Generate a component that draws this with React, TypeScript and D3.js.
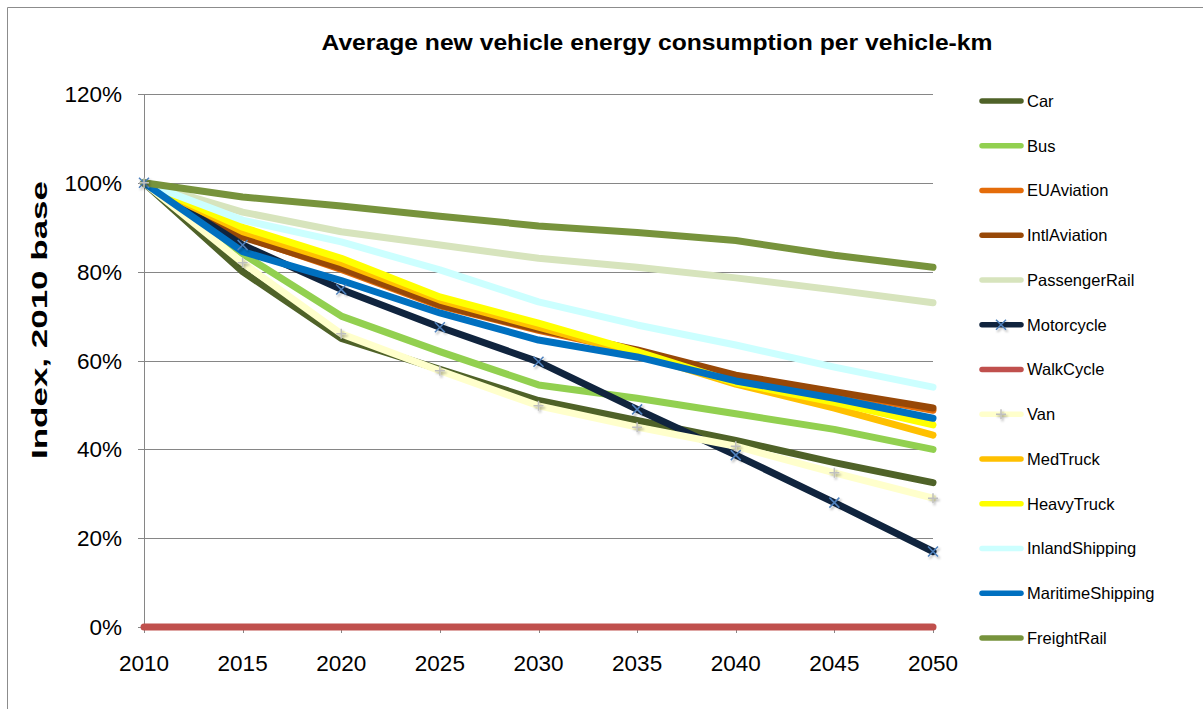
import React from "react";
import * as d3 from "d3";

const years = [2010, 2015, 2020, 2025, 2030, 2035, 2040, 2045, 2050];
const yTicks = [0, 20, 40, 60, 80, 100, 120];

const car = [100, 80, 65, 58, 51, 46.5, 42, 37, 32.5];
const bus = [100, 84, 70, 62, 54.5, 51.5, 48, 44.5, 40];
const euAviation = [100, 88, 80.5, 72.3, 66.8, 62, 56.5, 52.8, 48.8];
const intlAviation = [100, 87.8, 80.8, 72.5, 67, 62.4, 56.7, 53, 49.3];
const passengerRail = [100, 93.4, 89, 86, 83, 81, 78.6, 75.9, 73];
const motorcycle = [100, 86, 76, 67.5, 59.7, 49, 38.7, 28, 17];
const walkCycle = [0, 0, 0, 0, 0, 0, 0, 0, 0];
const van = [100, 82, 66, 57.7, 49.8, 45, 40.7, 34.7, 29];
const medTruck = [100, 89, 82, 73.6, 67.5, 61.5, 54.7, 49.3, 43.2];
const heavyTruck = [100, 90, 83, 74.3, 68.4, 62, 55, 50.6, 45.5];
const inlandShipping = [100, 91.6, 86.7, 80.4, 73.2, 68, 63.5, 58.5, 54];
const maritimeShipping = [100, 84.5, 78, 70.7, 64.6, 60.8, 55.4, 51.5, 47];
const freightRail = [100, 96.8, 94.8, 92.5, 90.3, 88.8, 87, 83.7, 81];

const seriesNames = [
  "Car", "Bus", "EUAviation", "IntlAviation", "PassengerRail", "Motorcycle",
  "WalkCycle", "Van", "MedTruck", "HeavyTruck", "InlandShipping",
  "MaritimeShipping", "FreightRail",
];
const seriesValues = [
  car, bus, euAviation, intlAviation, passengerRail, motorcycle, walkCycle,
  van, medTruck, heavyTruck, inlandShipping, maritimeShipping, freightRail,
];
const seriesColors = [
  "#4F6228", "#92D050", "#E46C0A", "#984807", "#D7E4BD", "#10243E",
  "#C0504D", "#FFFFCC", "#FFC000", "#FFFF00", "#CCFFFF", "#0070C0", "#77933C",
];
const seriesMarkers = ["", "", "", "", "", "x", "", "+", "", "", "", "", ""];

const FONT = "'Liberation Sans', Arial, sans-serif";

export default function App() {
  const W = 1203, H = 709;
  const left = 144, right = 933, top = 94, bottom = 627;
  const x = d3.scaleLinear().domain([2010, 2050]).range([left, right]);
  const y = d3.scaleLinear().domain([0, 120]).range([bottom, top]);
  const line = d3.line<number>().x((_, i) => x(years[i])).y((d) => y(d));

  const marker = (type: string, cx: number, cy: number, key: string) => {
    const s = 5;
    if (type === "x") {
      return (
        <g key={key} filter="url(#shadow)">
          <path d={`M${cx - s},${cy - s}L${cx + s},${cy + s}M${cx - s},${cy + s}L${cx + s},${cy - s}`} stroke="#4F81BD" strokeWidth={1.5} fill="none" />
        </g>
      );
    }
    if (type === "+") {
      return (
        <g key={key} filter="url(#shadow)">
          <path d={`M${cx - s},${cy}L${cx + s},${cy}M${cx},${cy - s}L${cx},${cy + s}`} stroke="#BFBFBF" strokeWidth={1.5} fill="none" />
        </g>
      );
    }
    return null;
  };

  const legendY0 = 101, legendStep = 44.75;

  return (
    <svg width={W} height={H} style={{ position: "absolute", left: 0, top: 0, background: "#fff" }} fontFamily={FONT}>
      <defs>
        <filter id="shadow" x="-50%" y="-50%" width="200%" height="200%">
          <feDropShadow dx="1.5" dy="2" stdDeviation="1.2" floodColor="#000" floodOpacity="0.35" />
        </filter>
      </defs>
      <rect x={0} y={0} width={W} height={H} fill="#fff" />
      <path d={`M7.5,${H}V7.5H${W}`} fill="none" stroke="#8C8C8C" strokeWidth={1} />

      <text x={657} y={50} textAnchor="middle" fontSize={22} fontWeight="bold" fill="#000" textLength={671} lengthAdjust="spacingAndGlyphs">
        Average new vehicle energy consumption per vehicle-km
      </text>

      {yTicks.map((t) => (
        <g key={t}>
          {t > 0 && <line x1={left} x2={right} y1={Math.round(y(t)) + 0.5} y2={Math.round(y(t)) + 0.5} stroke="#868686" strokeWidth={1} />}
          <line x1={left - 6} x2={left} y1={Math.round(y(t)) + 0.5} y2={Math.round(y(t)) + 0.5} stroke="#868686" />
          <text x={122} y={y(t)} dy="0.36em" textAnchor="end" fontSize={22.5} fill="#000">{t}%</text>
        </g>
      ))}
      <line x1={left + 0.5} x2={left + 0.5} y1={top} y2={bottom} stroke="#868686" />
      <line x1={left} x2={right} y1={bottom + 0.5} y2={bottom + 0.5} stroke="#868686" />
      {years.map((yr) => (
        <g key={yr}>
          <line x1={Math.round(x(yr)) + 0.5} x2={Math.round(x(yr)) + 0.5} y1={bottom} y2={bottom + 6} stroke="#868686" />
          <text x={x(yr)} y={663} dy="0.36em" textAnchor="middle" fontSize={22.5} fill="#000">{yr}</text>
        </g>
      ))}

      <text transform={`translate(47,320) rotate(-90)`} textAnchor="middle" fontSize={22} fontWeight="bold" fill="#000" textLength={278} lengthAdjust="spacingAndGlyphs">
        Index, 2010 base
      </text>

      {seriesValues.map((vals, si) => (
        <path key={seriesNames[si]} d={line(vals) || ""} fill="none" stroke={seriesColors[si]} strokeWidth={7} strokeLinejoin="round" strokeLinecap="round" />
      ))}
      {seriesValues.map((vals, si) =>
        seriesMarkers[si] ? vals.map((v, i) => marker(seriesMarkers[si], x(years[i]), y(v), `${si}-${i}`)) : null
      )}

      {seriesNames.map((name, i) => {
        const ly = legendY0 + i * legendStep;
        return (
          <g key={name}>
            <line x1={982} x2={1021} y1={ly} y2={ly} stroke={seriesColors[i]} strokeWidth={5.5} strokeLinecap="round" />
            {seriesMarkers[i] && marker(seriesMarkers[i], 1001, ly, `leg-${i}`)}
            <text x={1027} y={ly} dy="0.36em" fontSize={16.5} fill="#000">{name}</text>
          </g>
        );
      })}
    </svg>
  );
}
